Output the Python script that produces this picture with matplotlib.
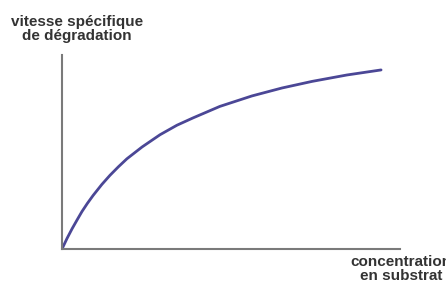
import numpy as np
import matplotlib.pyplot as plt

# curve (concentration vs specific rate, arbitrary units)
conc = [0, 0.15, 0.30, 0.45, 0.59, 0.75, 0.92, 1.18, 1.42, 1.67, 1.92, 2.37, 2.90, 3.40,
        3.88, 4.67, 5.62, 6.51, 7.40, 8.43, 9.44]
rate = [0, 0.55, 1.05, 1.51, 1.93, 2.35, 2.76, 3.33, 3.80, 4.24, 4.65, 5.26, 5.89, 6.38,
        6.76, 7.35, 7.89, 8.30, 8.64, 8.97, 9.23]

ylabel = "vitesse spécifique\nde dégradation"
xlabel = "concentration\nen substrat"

W, H = 446, 287
fig = plt.figure(figsize=(W / 100, H / 100), dpi=100)
ax = fig.add_axes([62 / W, (H - 249) / H, (400 - 62) / W, (249 - 55) / H])

ax.plot(conc, rate, color="#4b4796", lw=2.0, solid_capstyle="round", solid_joinstyle="round")
ax.set_xlim(0, 10)
ax.set_ylim(0, 10)
ax.set_xticks([])
ax.set_yticks([])
for s in ["top", "right"]:
    ax.spines[s].set_visible(False)
for s in ["left", "bottom"]:
    ax.spines[s].set_color("#7a7a7a")
    ax.spines[s].set_linewidth(1.5)

font = dict(family="Liberation Sans", fontsize=11, color="#333333", weight="bold")
fig.text(77 / W, 1 - 29 / H, ylabel, ha="center", va="center", linespacing=0.95, **font)
fig.text(401 / W, 1 - 269 / H, xlabel, ha="center", va="center", linespacing=0.95, **font)

fig.savefig("out.png", dpi=100)
